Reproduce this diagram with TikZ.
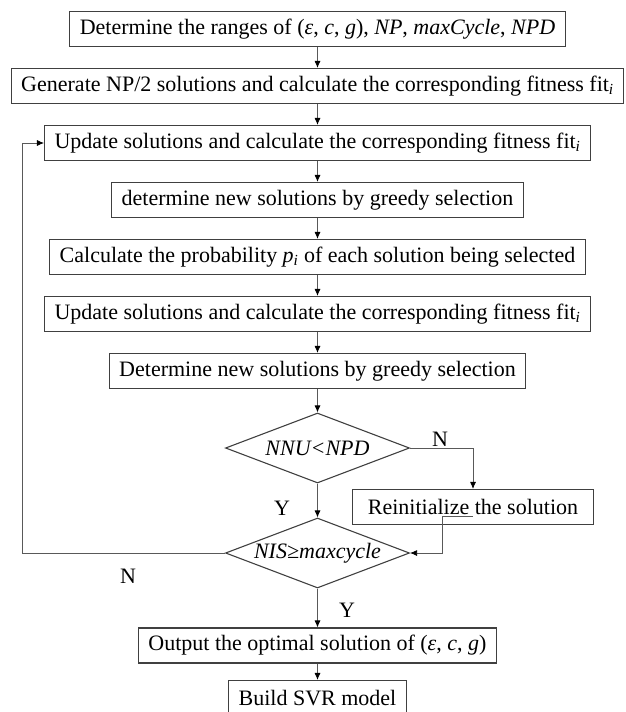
\documentclass[tikz,border=0pt]{standalone}
\usepackage{fontspec}
\setmainfont{Liberation Serif}
\usetikzlibrary{arrows.meta,shapes.geometric}
\newcommand{\fiti}{fit\textsubscript{\textit{i}}}

\begin{document}
\begin{tikzpicture}[x=1pt, y=-1pt,
  n/.style={draw=black!75, line width=1.1pt, minimum height=35pt,
            inner xsep=10pt, inner ysep=2pt, font=\fontsize{22}{24}\selectfont},
  dec/.style={diamond, draw=black!75, line width=1.1pt, aspect=2.6,
              minimum width=184pt, minimum height=70pt, inner sep=0pt,
              font=\fontsize{22}{24}\selectfont\itshape},
  arr/.style={-{Latex[length=7pt,width=6pt,black]}, line width=0.8pt, black!65},
  lbl/.style={font=\fontsize{22}{24}\selectfont, inner sep=0pt},
]
\useasboundingbox (0,0) rectangle (625,712);
% --- main column ---
\node[n] (b1) at (317.5,29)  {Determine the ranges of (\textit{ε}, \textit{c}, \textit{g}), \textit{NP}, \textit{maxCycle}, \textit{NPD}};
\node[n] (b2) at (317.5,86)  {Generate NP/2 solutions and calculate the corresponding fitness \fiti};
\node[n] (b3) at (317.5,143) {Update solutions and calculate the corresponding fitness \fiti};
\node[n] (b4) at (317.5,200) {determine new solutions by greedy selection};
\node[n] (b5) at (317.5,257) {Calculate the probability \textit{p}\textsubscript{\textit{i}} of each solution being selected};
\node[n] (b6) at (317.5,314) {Update solutions and calculate the corresponding fitness \fiti};
\node[n] (b7) at (317.5,371) {Determine new solutions by greedy selection};
\node[dec] (d1) at (317.5,448) {NNU<NPD};
\node[n, inner xsep=15pt] (r1) at (473,507) {Reinitialize the solution};
\node[dec] (d2) at (317.5,553) {NIS≥maxcycle};
\node[n] (b8) at (317.5,645.5) {Output the optimal solution of (\textit{ε}, \textit{c}, \textit{g})};
\node[n] (b9) at (317.5,698) {Build SVR model};
\coordinate (lp) at (22,553);
\foreach \x/\y in {b1/b2,b2/b3,b3/b4,b4/b5,b5/b6,b6/b7,b7/d1,d1/d2,d2/b8,b8/b9} \draw[arr] (\x) -- (\y);

% --- branches ---
\draw[arr] (d1.east) -| (r1.north);
\draw[arr] ([yshift=-9pt]r1.center) -- ++(-31,0) |- (d2.east);
\draw[arr] (d2.west) -- (lp) |- (b3.west);
\node[lbl] (no1)  at (440,439) {N};
\node[lbl] (yes1) at (282,508) {Y};
\node[lbl] (no2)  at (128,576) {N};
\node[lbl] (yes2) at (347,610) {Y};
\end{tikzpicture}
\end{document}
